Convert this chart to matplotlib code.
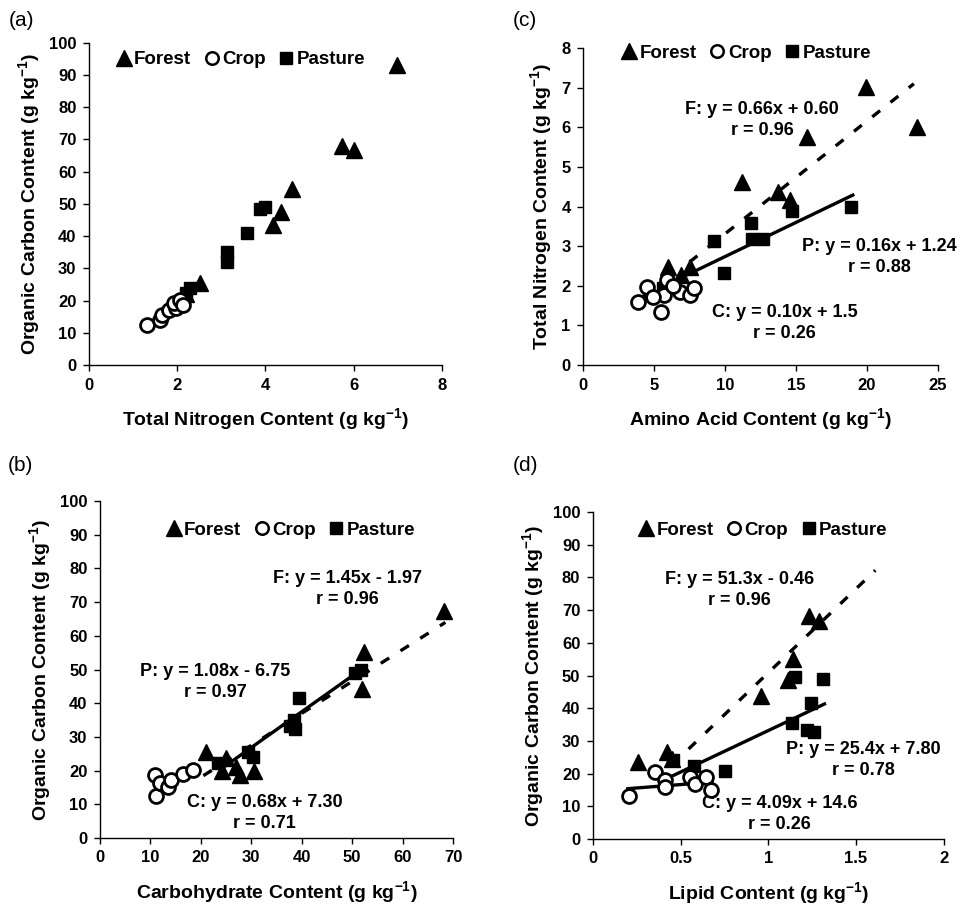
import matplotlib
matplotlib.use("Agg")
import matplotlib.pyplot as plt
from matplotlib.lines import Line2D

plt.rcParams['font.family'] = ['Liberation Sans', 'DejaVu Sans']
plt.rcParams['font.weight'] = 'bold'
plt.rcParams['mathtext.fontset'] = 'custom'
plt.rcParams['mathtext.rm'] = 'Liberation Sans:bold'
plt.rcParams['mathtext.bf'] = 'Liberation Sans:bold'
plt.rcParams['mathtext.default'] = 'bf'

# --- datos ---
# (a) nitrogeno total vs carbono organico
a_forest_x = [6.99, 5.74, 6.01, 4.61, 4.35, 4.18, 2.52, 2.2]
a_forest_y = [93.2, 67.8, 66.6, 54.6, 47.4, 43.3, 25.4, 22.0]
a_pasture_x = [3.88, 3.99, 3.58, 3.12, 3.12, 2.29, 2.21, 2.10]
a_pasture_y = [48.3, 49.0, 41.1, 35.0, 31.9, 23.8, 22.3, 20.2]
a_crop_x = [1.31, 1.61, 1.66, 1.82, 1.97, 1.93, 2.06, 2.14]
a_crop_y = [12.4, 14.0, 15.5, 17.1, 17.6, 19.2, 20.2, 18.6]

# (b) carbohidratos vs carbono organico
b_forest_x = [68.3, 52.4, 51.9, 21.0, 25.0, 24.1, 27.8, 30.6, 27.0]
b_forest_y = [67.3, 55.1, 44.1, 25.6, 23.6, 19.9, 18.7, 20.0, 21.0]
b_pasture_x = [51.8, 50.6, 39.5, 38.4, 37.7, 38.6, 30.4, 29.4, 23.5]
b_pasture_y = [49.9, 48.9, 41.6, 35.0, 33.2, 32.5, 24.1, 25.6, 22.2]
b_crop_x = [11.0, 11.1, 11.9, 13.4, 14.0, 16.5, 18.4]
b_crop_y = [18.7, 12.5, 16.2, 15.2, 17.2, 19.1, 20.2]
b_fit_f_x, b_fit_f_y = [20.5, 68.5], [18.5, 64.0]
b_fit_p_x, b_fit_p_y = [24.5, 51.6], [21.0, 49.8]
b_fit_c_x, b_fit_c_y = [11.2, 18.5], [12.8, 20.3]

# (c) aminoacidos vs nitrogeno total
c_forest_x = [19.9, 23.5, 15.8, 11.2, 13.7, 14.6, 6.0, 7.5, 6.9]
c_forest_y = [7.02, 6.01, 5.76, 4.62, 4.37, 4.17, 2.47, 2.47, 2.27]
c_pasture_x = [18.9, 14.7, 11.8, 11.9, 12.7, 9.2, 9.9, 5.6]
c_pasture_y = [3.99, 3.89, 3.59, 3.18, 3.18, 3.13, 2.32, 1.94]
c_crop_x = [3.9, 4.5, 5.5, 5.9, 5.7, 6.8, 7.5, 7.8, 6.3, 4.9]
c_crop_y = [1.60, 1.98, 1.35, 2.15, 1.77, 1.85, 1.77, 1.94, 2.0, 1.72]
c_fit_f_x, c_fit_f_y = [7.5, 23.3], [2.6, 7.1]
c_fit_p_x, c_fit_p_y = [7.0, 19.0], [2.22, 4.29]
c_fit_c_x, c_fit_c_y = [4.0, 8.0], [1.72, 1.94]

# (d) lipidos vs carbono organico
d_forest_x = [1.232, 1.288, 1.141, 1.113, 0.961, 0.258, 0.424, 0.45]
d_forest_y = [68.2, 66.7, 55.2, 48.6, 43.7, 23.6, 26.5, 24.6]
d_pasture_x = [1.151, 1.312, 1.242, 1.136, 1.223, 1.259, 0.575, 0.458, 0.752]
d_pasture_y = [49.6, 48.8, 41.7, 35.4, 33.3, 32.6, 22.3, 24.2, 20.9]
d_crop_x = [0.205, 0.353, 0.41, 0.41, 0.553, 0.581, 0.644, 0.676]
d_crop_y = [13.1, 20.4, 18.0, 15.8, 19.0, 16.7, 19.0, 15.0]
d_fit_f_x, d_fit_f_y = [0.45, 1.61], [22.6, 82.2]
d_fit_p_x, d_fit_p_y = [0.45, 1.32], [19.2, 41.3]
d_fit_c_x, d_fit_c_y = [0.20, 0.68], [15.4, 17.4]

UNIT = r'(g kg$^{-1}$)'
DASH = (0, (3, 4))


def base_axes(ax, xlim, ylim, xticks, yticks, xticklabels, xlabel, ylabel):
    ax.set_xlim(*xlim)
    ax.set_ylim(*ylim)
    ax.set_xticks(xticks)
    ax.set_xticklabels(xticklabels)
    ax.set_yticks(yticks)
    for s in ['top', 'right']:
        ax.spines[s].set_visible(False)
    for s in ['left', 'bottom']:
        ax.spines[s].set_linewidth(1.0)
    ax.tick_params(direction='out', length=4, width=1, labelsize=12, pad=5)
    for lab in ax.get_xticklabels() + ax.get_yticklabels():
        lab.set_fontweight('bold')
    ax.set_xlabel(xlabel, fontsize=14, fontweight='bold', labelpad=10)
    ax.set_ylabel(ylabel, fontsize=14, fontweight='bold', labelpad=5)


def puntos(ax, fx, fy, px, py, cx, cy):
    ax.plot(fx, fy, '^', color='black', ms=11, zorder=3, clip_on=False)
    ax.plot(px, py, 's', color='black', ms=8.5, zorder=3)
    ax.plot(cx, cy, 'o', mfc='white', mec='black', mew=2.0, ms=10, zorder=4)


def leyenda(ax, x, y):
    h = [Line2D([], [], ls='none', marker='^', color='black', ms=11),
         Line2D([], [], ls='none', marker='o', mfc='white', mec='black', mew=1.8, ms=9),
         Line2D([], [], ls='none', marker='s', color='black', ms=8.5)]
    ax.legend(h, ['Forest', 'Crop', 'Pasture'], ncol=3, loc='center',
              bbox_to_anchor=(x, y), frameon=False, handlelength=0.8,
              handletextpad=0.15, columnspacing=0.7, borderaxespad=0,
              prop={'size': 13.5, 'weight': 'bold'})


def ecuacion(ax, x, y, txt):
    ax.text(x, y, txt, ha='center', va='center', fontsize=13,
            fontweight='bold', linespacing=1.3)


fig = plt.figure(figsize=(9.67, 9.08), dpi=100)

ax_a = fig.add_axes([0.092, 0.598, 0.365, 0.355])
ax_b = fig.add_axes([0.1034, 0.0771, 0.365, 0.371])
ax_c = fig.add_axes([0.603, 0.598, 0.367, 0.349])
ax_d = fig.add_axes([0.613, 0.076, 0.363, 0.360])

# (a)
puntos(ax_a, a_forest_x, a_forest_y, a_pasture_x, a_pasture_y, a_crop_x, a_crop_y)
base_axes(ax_a, (0, 8), (0, 100), [0, 2, 4, 6, 8], range(0, 101, 10),
          ['0', '2', '4', '6', '8'], 'Total Nitrogen Content ' + UNIT,
          'Organic Carbon Content ' + UNIT)
leyenda(ax_a, 0.43, 0.947)

# (b)
puntos(ax_b, b_forest_x, b_forest_y, b_pasture_x, b_pasture_y, b_crop_x, b_crop_y)
ax_b.plot(b_fit_f_x, b_fit_f_y, color='black', lw=2.4, ls=DASH, zorder=2)
ax_b.plot(b_fit_p_x, b_fit_p_y, color='black', lw=2.4, zorder=2)
ax_b.plot(b_fit_c_x, b_fit_c_y, color='black', lw=2.4, zorder=2)
base_axes(ax_b, (0, 70), (0, 100), range(0, 71, 10), range(0, 101, 10),
          [str(v) for v in range(0, 71, 10)], 'Carbohydrate Content ' + UNIT,
          'Organic Carbon Content ' + UNIT)
leyenda(ax_b, 0.54, 0.914)
ecuacion(ax_b, 49.0, 73.9, 'F: y = 1.45x - 1.97\nr = 0.96')
ecuacion(ax_b, 22.8, 46.3, 'P: y = 1.08x - 6.75\nr = 0.97')
ecuacion(ax_b, 32.7, 7.4, 'C: y = 0.68x + 7.30\nr = 0.71')

# (c)
puntos(ax_c, c_forest_x, c_forest_y, c_pasture_x, c_pasture_y, c_crop_x, c_crop_y)
ax_c.plot(c_fit_f_x, c_fit_f_y, color='black', lw=2.4, ls=DASH, zorder=2)
ax_c.plot(c_fit_p_x, c_fit_p_y, color='black', lw=2.4, zorder=2)
ax_c.plot(c_fit_c_x, c_fit_c_y, color='black', lw=2.4, zorder=2)
base_axes(ax_c, (0, 25), (0, 8), range(0, 26, 5), range(0, 9),
          [str(v) for v in range(0, 26, 5)], 'Amino Acid Content ' + UNIT,
          'Total Nitrogen Content ' + UNIT)
leyenda(ax_c, 0.46, 0.984)
ecuacion(ax_c, 12.6, 6.19, 'F: y = 0.66x + 0.60\nr = 0.96')
ecuacion(ax_c, 20.9, 2.73, 'P: y = 0.16x + 1.24\nr = 0.88')
ecuacion(ax_c, 14.2, 1.06, 'C: y = 0.10x + 1.5\nr = 0.26')

# (d)
puntos(ax_d, d_forest_x, d_forest_y, d_pasture_x, d_pasture_y, d_crop_x, d_crop_y)
ax_d.plot(d_fit_f_x, d_fit_f_y, color='black', lw=2.4, ls=DASH, zorder=2)
ax_d.plot(d_fit_p_x, d_fit_p_y, color='black', lw=2.4, zorder=2)
ax_d.plot(d_fit_c_x, d_fit_c_y, color='black', lw=2.4, zorder=2)
base_axes(ax_d, (0, 2), (0, 100), [0, 0.5, 1, 1.5, 2], range(0, 101, 10),
          ['0', '0.5', '1', '1.5', '2'], 'Lipid Content ' + UNIT,
          'Organic Carbon Content ' + UNIT)
leyenda(ax_d, 0.485, 0.945)
ecuacion(ax_d, 0.838, 76.1, 'F: y = 51.3x - 0.46\nr = 0.96')
ecuacion(ax_d, 1.544, 24.2, 'P: y = 25.4x + 7.80\nr = 0.78')
ecuacion(ax_d, 1.066, 7.6, 'C: y = 4.09x + 14.6\nr = 0.26')

# letras de panel
for x, y, t in [(0.022, 0.977, '(a)'), (0.543, 0.977, '(c)'),
                (0.021, 0.487, '(b)'), (0.543, 0.487, '(d)')]:
    fig.text(x, y, t, ha='center', va='center', fontsize=15, fontweight='normal')

fig.savefig('out.png', dpi=100)
